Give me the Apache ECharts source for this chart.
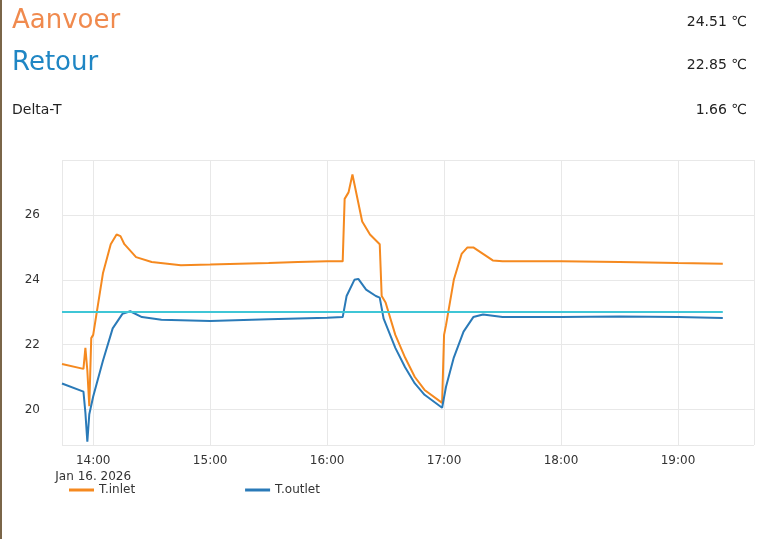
<!DOCTYPE html>
<html>
<head>
<meta charset="utf-8" />
<script src="https://cdn.jsdelivr.net/npm/echarts@6/dist/echarts.min.js"></script>
<style>
  body { margin: 0; background: #fff; }
  #main { width: 761px; height: 539px; border-left: 2px solid #7a6548; box-sizing: border-box; }
</style>
</head>
<body>
<div id="main"></div>
<script>
// time stamps (Jan 16 2026) and readings
var inletTimes = ['13:44','13:55','13:56','13:57','13:58','13:59','14:00','14:05','14:09','14:12','14:14','14:16','14:22','14:30','14:45','15:00','15:15','15:30','15:45','16:00','16:08','16:09','16:11','16:13','16:14','16:18','16:22','16:27','16:28','16:30','16:35','16:40','16:45','16:50','16:59','17:00','17:01','17:05','17:09','17:12','17:15','17:20','17:25','17:30','18:00','18:30','19:00','19:23'];
var inletValues = [21.4,21.25,21.9,21.2,20.1,22.2,22.3,24.2,25.1,25.4,25.35,25.1,24.7,24.55,24.45,24.47,24.5,24.52,24.55,24.57,24.57,26.5,26.7,27.25,27.2,25.8,25.4,25.1,23.5,23.3,22.3,21.6,21.0,20.6,20.2,22.3,22.6,24.0,24.8,25.0,25.0,24.8,24.6,24.57,24.57,24.55,24.52,24.5];
var outletTimes = ['13:44','13:55','13:56','13:57','13:58','13:59','14:00','14:05','14:10','14:15','14:19','14:25','14:35','15:00','15:30','16:00','16:08','16:10','16:14','16:16','16:20','16:25','16:27','16:29','16:35','16:40','16:45','16:50','16:59','17:00','17:01','17:05','17:10','17:15','17:20','17:30','18:00','18:30','19:00','19:23'];
var outletValues = [20.8,20.55,19.9,19.0,19.85,19.9,20.4,21.5,22.5,22.95,23.03,22.85,22.77,22.73,22.78,22.83,22.85,23.5,24.0,24.03,23.7,23.5,23.45,22.8,21.9,21.3,20.8,20.45,20.05,20.05,20.7,21.6,22.4,22.85,22.93,22.85,22.85,22.87,22.85,22.82];
var setpoint = 23;

function ts(hm) { return '2026-01-16 ' + hm + ':00'; }
function pairs(t, v) { return t.map(function (x, i) { return [ts(x), v[i]]; }); }

var chart = echarts.init(document.getElementById('main'));
chart.setOption({
  animation: false,
  textStyle: { fontFamily: 'DejaVu Sans' },
  graphic: [
    { type: 'text', left: 10, top: 8, style: { text: 'Aanvoer', fontSize: 26, fill: '#f08a4e', fontFamily: 'DejaVu Sans' } },
    { type: 'text', left: 10, top: 50, style: { text: 'Retour', fontSize: 26, fill: '#1f86c4', fontFamily: 'DejaVu Sans' } },
    { type: 'text', left: 10, top: 103, style: { text: 'Delta-T', fontSize: 14, fill: '#222', fontFamily: 'DejaVu Sans' } },
    { type: 'text', right: 14, top: 15, style: { text: '24.51 ℃', fontSize: 14, fill: '#222', fontFamily: 'DejaVu Sans' } },
    { type: 'text', right: 14, top: 58, style: { text: '22.85 ℃', fontSize: 14, fill: '#222', fontFamily: 'DejaVu Sans' } },
    { type: 'text', right: 14, top: 103, style: { text: '1.66 ℃', fontSize: 14, fill: '#222', fontFamily: 'DejaVu Sans' } }
  ],
  grid: { left: 60, right: 7, top: 160, bottom: 94 },
  legend: {
    bottom: 38, left: 62, itemGap: 110, itemWidth: 25, itemHeight: 3,
    icon: 'rect', textStyle: { color: '#333', fontSize: 12 },
    data: ['T.inlet', 'T.outlet']
  },
  xAxis: {
    type: 'time',
    min: ts('13:44'), max: ts('19:39'),
    interval: 3600 * 1000,
    axisLine: { show: false }, axisTick: { show: false },
    splitLine: { show: true, lineStyle: { color: '#e8e8e8' } },
    axisLabel: {
      color: '#333', fontSize: 12, lineHeight: 16,
      formatter: function (v) {
        var d = new Date(v);
        var s = String(d.getHours()).padStart(2, '0') + ':00';
        return d.getHours() === 14 ? s + '\nJan 16. 2026' : s;
      }
    }
  },
  yAxis: {
    type: 'value', min: 18.9, max: 27.7,
    axisLine: { show: false }, axisTick: { show: false },
    axisLabel: { color: '#333', fontSize: 12, showMinLabel: false, showMaxLabel: false, margin: 22 },
    splitLine: { lineStyle: { color: '#e8e8e8' } }
  },
  series: [
    {
      name: 'T.inlet', type: 'line', showSymbol: false, color: '#f5891f',
      lineStyle: { width: 2 }, data: pairs(inletTimes, inletValues),
      markLine: {
        silent: true, symbol: 'none', label: { show: false },
        lineStyle: { color: '#3fc6d6', width: 2, type: 'solid' },
        data: [[{ coord: [ts('13:44'), setpoint] }, { coord: [ts('19:23'), setpoint] }]]
      }
    },
    {
      name: 'T.outlet', type: 'line', showSymbol: false, color: '#2a7ab8',
      lineStyle: { width: 2 }, data: pairs(outletTimes, outletValues)
    }
  ]
});
</script>
</body>
</html>
